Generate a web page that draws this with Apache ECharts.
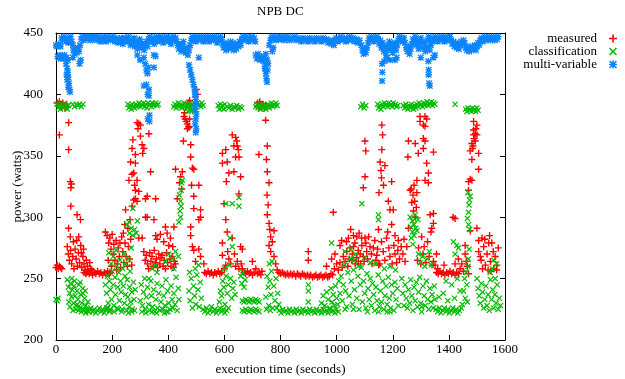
<!DOCTYPE html>
<html>
<head>
<meta charset="utf-8">
<script src="https://cdn.jsdelivr.net/npm/echarts@6/dist/echarts.min.js"></script>
<style>
html, body { margin: 0; padding: 0; background: #fff; }
#main { width: 625px; height: 379px; }
</style>
</head>
<body>
<div id="main"></div>
<script>
// power readings, [time (s), watts]
var measured = [
[0,259],[4,261],[8,258],[12,260],[16,259],[20,258],
[4,393],[8,391],[12,394],[16,392],[20,390],[24,393],[28,391],[32,389],[36,392],[40,390],
[12,367],[45,377],[45,355],[51,329],[53,324],[55,327],[53,309],[45,291],[75,302],[87,298],[51,284],[81,284],
[40,276],[44,270],[48,265],[52,273],[56,262],[60,268],[64,258],[68,274],[72,266],[76,260],[80,271],[84,263],[88,277],[92,259],[96,268],[100,262],[104,257],[108,265],[112,260],[116,256],[120,263],[124,258],[128,257],[62,280],[74,281],[90,271],[98,274],[110,255],
[100,255],[106,254],[112,256],[118,254],[124,255],[130,253],[136,255],[142,254],[148,256],[154,254],[160,255],[166,253],[172,255],[178,254],[184,256],[190,254],[194,255],
[176,288],[182,285],[188,279],[192,283],[196,274],[200,286],[204,270],[206,278],[210,265],[214,281],[218,262],[222,275],[226,268],[230,259],[234,284],[238,272],[242,263],[246,279],[250,268],[254,260],[258,276],[262,266],[266,282],[270,261],[186,265],[198,260],[216,257],[228,279],[240,287],[256,291],[264,298],[248,306],[245,294],
[289,377],[295,376],[301,375],[292,372],[274,363],[307,359],[301,366],[313,356],[271,356],[283,351],[309,352],[283,344],[277,336],[271,335],[289,330],[283,322],[295,321],[319,315],[325,317],[289,313],[277,314],[271,309],[283,315],[331,368],[337,337],[355,315],[319,300],[325,300],[295,283],[307,283],[349,298],[355,285],[260,330],[266,345],[280,326],
[313,272],[318,265],[322,269],[326,262],[330,258],[334,271],[338,264],[342,268],[346,260],[350,273],[354,263],[358,266],[362,259],[366,270],[370,262],[374,267],[378,269],[382,260],[386,265],[390,258],[394,271],[398,263],[402,277],[406,266],[410,260],[414,268],[418,259],[422,264],[426,262],[390,292],[420,292],[360,282],[372,286],[384,280],[396,287],[408,283],[416,276],
[426,339],[450,337],[444,333],[448,323],[432,315],[440,328],
[456,382],[460,380],[464,378],[468,376],[472,374],[474,373],[458,385],[462,390],[470,393],[476,395],[480,391],[454,362],[480,359],[486,340],[491,339],[480,349],[483,326],[491,317],[509,326],[491,307],[515,306],[480,292],[509,298],[515,300],[480,285],[486,276],[491,273],[509,274],[515,268],[527,262],[497,264],[476,380],[468,372],[500,404],[497,398],[504,400],
[530,255],[536,254],[542,256],[548,254],[554,255],[560,253],[566,255],[572,254],[578,256],[584,254],[590,255],
[593,352],[605,355],[593,344],[610,345],[628,367],[640,365],[646,358],[634,358],[640,349],[652,349],[658,333],[634,337],[616,336],[607,329],[652,319],[599,311],[605,298],[610,288],[593,279],[628,283],[658,276],[664,274],[593,269],[616,266],[605,261],[622,262],[636,270],[646,264],[652,258],[600,258],[640,260],[612,272],[660,262],[644,362],[650,355],
[664,258],[670,255],[676,254],[682,256],[688,254],[694,255],[700,264],[700,253],[706,255],[712,258],[718,254],[724,255],[730,253],[734,256],
[718,393],[722,391],[726,394],[730,392],[734,390],[738,392],[742,389],[746,391],[723,389],
[747,379],[753,358],[750,347],[753,337],[759,328],[723,351],[753,302],[759,295],[777,289],[765,284],[771,280],[759,277],[765,272],[777,268],[783,262],[752,318],[756,310],[762,290],
[788,257],[794,255],[800,254],[806,255],[812,254],[818,253],[824,254],[830,253],[836,254],[842,253],[848,254],[854,252],[860,254],[866,253],[872,252],[878,254],[884,253],[890,252],[896,253],[902,252],[908,253],[914,251],[920,252],[926,253],[932,251],[938,252],[944,253],[950,251],[956,252],[962,253],[968,251],[974,252],[980,254],[986,253],
[899,272],[899,265],[988,304],
[964,260],[982,266],[994,270],[1012,277],[1018,281],[1042,283],[1048,275],[1065,279],[1077,273],[1089,283],[1101,283],[1030,264],[1054,265],[1077,264],[1095,268],[1107,272],[1119,276],[1131,275],[1143,269],[992,258],[1000,262],[1006,257],[1012,263],[1020,259],[1024,268],[1036,272],[1040,260],[1046,266],[1056,270],[1060,276],[1066,262],[1070,267],[1072,284],[1084,270],[1086,262],[1090,277],[1098,264],[1104,279],[1110,266],[1114,284],[1124,270],[1126,262],[1136,281],[1140,265],[1146,274],[1150,261],[1060,285],[1035,280],[1080,287],[1050,290],
[1101,362],[1104,354],[1101,333],[1095,324],
[1161,375],[1164,367],[1161,355],[1155,345],[1158,338],[1172,342],[1160,332],[1151,320],[1167,326],[1196,329],[1184,313],[1190,306],[1202,306],[1149,290],[1182,288],[1196,294],[1208,285],[1220,281],[1160,280],[1166,272],[1172,265],[1178,283],[1186,275],[1190,268],[1198,262],[1204,277],[1208,270],[1214,263],[1218,273],[1224,266],[1230,276],[1236,270],[1240,282],[1244,264],[1250,276],[1256,291],[1154,262],
[1256,362],[1280,360],[1254,349],[1291,352],[1266,323],[1272,318],[1278,313],[1284,308],[1274,305],[1280,300],[1268,312],[1286,320],[1286,330],[1262,322],[1276,326],
[1297,382],[1315,382],[1321,380],[1297,378],[1309,375],[1315,374],[1309,364],[1315,362],[1309,356],[1345,353],[1327,336],[1321,344],[1315,330],[1327,328],[1333,302],[1345,303],[1345,295],[1339,291],
[1303,284],[1308,270],[1312,276],[1318,263],[1324,280],[1330,268],[1336,288],[1340,261],[1345,264],[1351,261],[1356,270],[1360,258],[1300,262],[1292,275],[1288,265],
[1356,255],[1362,254],[1368,256],[1374,254],[1380,255],[1386,253],[1392,255],[1398,254],[1404,256],[1410,254],[1416,255],[1422,253],[1428,255],[1434,254],
[1383,261],[1422,262],[1422,299],[1415,300],
[1434,266],[1440,258],[1446,262],[1452,256],[1458,270],[1462,264],[1466,260],[1470,254],[1458,277],[1476,289],
[1470,329],[1476,331],[1482,330],[1470,322],
[1476,354],[1482,360],[1488,367],[1494,368],[1488,371],[1500,367],[1482,347],[1506,352],[1506,339],[1494,362],[1486,358],[1490,364],[1496,372],[1484,356],[1500,375],[1488,378],
[1500,291],[1506,281],[1506,272],[1512,268],[1518,283],[1524,276],[1530,261],[1536,270],[1542,279],[1548,264],[1553,279],[1558,272],[1565,268],[1571,261],[1576,275],[1540,257],[1550,256],[1560,258],[1570,257],[1515,265],[1528,282],[1545,285],[1520,258]
];

var classification = [
[0,233],[4,232],[8,234],
[4,392],[8,389],[12,391],[16,388],[20,392],[24,390],[28,389],[32,392],[36,390],[40,388],[44,391],
[60,392],[66,390],[72,392],[78,391],[84,392],[90,390],[96,392],
[40,249],[44,243],[48,238],[52,246],[55,235],[58,241],[62,230],[65,244],[68,236],[72,228],[75,240],[78,233],[82,245],[85,226],[88,237],[92,230],[95,242],[98,225],[102,234],[106,228],[110,224],[114,231],[116,223],[50,227],[60,224],[70,225],[80,224],[90,223],[46,231],[56,250],[66,248],[76,229],[86,247],[96,238],[104,240],
[100,224],[106,222],[112,225],[118,223],[124,226],[130,223],[136,225],[142,222],[148,224],[154,226],[160,223],[166,225],[172,222],[178,224],[184,226],[190,223],[194,225],
[176,245],[180,238],[184,252],[186,230],[190,248],[194,241],[196,262],[198,233],[200,256],[204,245],[206,228],[210,251],[212,237],[216,260],[218,226],[220,243],[224,255],[226,232],[230,248],[232,239],[236,225],[238,258],[240,244],[244,230],[246,252],[248,237],[252,224],[254,249],[256,235],[260,227],[262,243],[264,256],[266,231],[270,239],[272,225],[276,247],[278,233],[280,224],[282,241],[188,271],[204,268],[214,273],[228,265],[242,270],[250,262],[258,266],[268,275],[180,226],[192,224],[208,223],[222,225],[234,223],[258,222],[270,223],
[253,294],[260,296],[268,291],[274,285],[280,290],[286,287],[274,307],[290,297],[262,287],
[256,392],[260,389],[264,391],[268,388],[272,392],[276,390],[280,389],[284,392],[288,390],[292,391],[296,393],[300,390],[304,392],[308,391],[312,393],[316,390],[320,392],[324,389],[328,393],[332,391],[336,392],[340,390],[344,393],[348,391],[352,392],[356,393],[360,391],[364,392],
[300,232],[304,245],[308,228],[312,239],[316,250],[318,225],[322,235],[326,243],[330,229],[334,224],[338,248],[340,236],[344,227],[348,241],[352,223],[356,233],[360,246],[362,226],[366,238],[370,224],[374,231],[378,244],[380,225],[384,236],[388,228],[392,249],[394,223],[398,240],[402,230],[406,225],[410,244],[414,233],[416,226],[420,238],[424,229],[428,251],[432,224],[436,242],[438,233],[306,223],[320,222],[342,223],[358,222],[386,222],[400,223],[331,250],[343,258],[355,261],[360,255],[390,264],[402,270],[414,266],[426,272],[436,268],[420,258],
[440,318],[444,313],[446,309],[442,305],[444,300],[438,296],[446,322],[448,328],[450,330],
[420,390],[424,392],[428,389],[432,391],[436,393],[440,390],[444,392],[448,389],[452,391],[456,393],[460,390],[464,392],[468,389],[472,391],[476,393],[480,390],[484,392],[488,391],[492,393],[496,390],[500,392],[504,393],[508,391],[512,392],[516,390],[520,393],[524,391],[470,386],[478,387],[486,387],[494,386],
[474,240],[478,232],[482,250],[486,226],[490,244],[494,236],[498,229],[502,253],[506,241],[510,227],[514,247],[518,234],[476,255],[496,258],[508,261],
[524,225],[530,223],[536,226],[542,222],[548,224],[554,227],[560,223],[566,225],[572,222],[578,224],[584,226],[590,223],[596,225],[602,222],[608,224],[614,226],
[582,231],[586,240],[590,236],[594,248],[598,243],[602,229],[606,252],[610,238],[614,245],[618,261],[622,250],[626,234],[630,242],[634,247],[638,237],[600,258],[620,283],[628,276],[605,311],[628,311],[652,316],[652,309],
[578,391],[582,388],[586,392],[590,389],[594,391],[598,388],[602,392],[610,390],[616,389],[622,391],[628,388],[634,390],[638,389],[644,391],[650,388],[656,390],[662,389],
[658,252],[662,246],[666,255],[670,243],[674,249],
[664,232],[670,231],[676,233],[682,232],[688,231],[694,233],[700,232],[706,231],[712,233],[718,232],[724,231],[664,224],[670,223],[676,225],[682,224],[688,223],[694,225],[700,224],[706,223],[712,225],[718,224],[724,223],
[712,390],[716,392],[720,389],[724,391],[728,388],[732,392],[736,390],[740,389],[744,391],[748,388],[752,390],[756,392],[760,389],[764,391],[768,393],[772,390],[776,392],[780,391],[784,393],[788,391],
[748,235],[752,252],[756,243],[758,228],[762,248],[766,237],[768,256],[772,226],[776,244],[780,232],[784,250],[786,226],[790,238],[794,229],[760,262],[770,264],[750,225],[764,224],
[796,224],[802,222],[808,225],[814,223],[820,224],[826,222],[832,225],[838,223],[844,224],[850,222],[856,225],[862,223],[868,224],[874,222],[880,225],[886,223],[892,224],[898,222],[904,225],[910,223],[916,224],[922,222],[928,225],[934,223],[940,224],[946,222],[952,225],[958,223],[964,224],[970,222],[976,225],[982,223],[988,224],[994,222],[1000,225],[1006,223],
[899,245],[899,240],[899,231],
[946,230],[952,236],[958,228],[964,239],[970,233],[976,226],[980,242],[984,231],[988,237],[992,228],[996,244],[1000,234],[1004,229],[1008,248],[1012,238],[1016,252],[1020,232],[1024,245],[1028,261],[1032,240],[1036,227],[1040,255],[982,279],
[1044,236],[1048,266],[1052,248],[1056,229],[1060,257],[1064,241],[1068,270],[1072,234],[1076,252],[1080,225],[1084,245],[1088,259],[1092,231],[1096,248],[1100,238],[1104,226],[1108,254],[1112,242],[1116,233],[1120,250],[1124,228],[1128,246],[1132,237],[1136,224],[1140,243],[1144,232],[1148,253],[1152,227],[1156,240],[1160,231],[1164,248],[1168,225],[1172,236],[1176,244],[1180,229],[1184,251],[1188,234],[1192,226],[1196,245],[1200,238],[1204,224],[1208,247],[1212,233],[1216,242],[1220,228],[1030,272],[1050,274],[1064,265],[1077,260],[1090,311],[1100,267],[1120,263],[1140,262],[1170,258],[1190,260],[1210,257],[1060,225],[1110,223],[1150,223],[1190,223],[1030,225],[1180,223],
[1086,390],[1092,392],[1098,389],[1104,391],
[1149,302],[1149,298],[1146,392],[1150,389],[1154,391],[1158,388],[1162,392],[1166,390],[1170,393],[1174,391],[1178,392],[1182,390],[1186,393],[1190,391],[1194,392],[1198,390],[1202,393],[1206,391],[1210,392],[1214,390],[1218,391],
[1262,300],[1270,297],[1276,294],[1282,291],[1270,288],[1276,285],[1266,283],[1272,278],[1290,298],[1280,302],[1286,289],[1264,292],
[1238,391],[1242,389],[1246,392],[1250,390],[1254,388],[1258,391],[1262,389],[1266,392],[1270,390],[1274,388],[1278,391],[1282,389],[1286,392],[1290,390],[1294,393],[1298,391],[1302,392],[1306,390],[1310,393],[1314,391],[1318,392],[1322,394],[1326,391],[1330,393],[1334,392],[1338,394],[1342,391],[1346,393],[1350,392],
[1292,270],[1298,263],[1306,268],[1314,260],[1322,266],[1330,272],[1338,261],
[1232,250],[1236,238],[1240,228],[1244,245],[1248,234],[1252,226],[1256,241],[1260,230],[1264,249],[1268,236],[1272,224],[1276,243],[1280,232],[1284,247],[1288,227],[1292,239],[1296,251],[1300,230],[1303,227],[1303,223],[1308,244],[1312,236],[1316,228],[1320,248],[1324,233],[1328,225],[1332,242],[1336,231],[1340,237],[1344,226],[1348,244],[1350,233],
[1354,225],[1360,223],[1366,226],[1372,222],[1378,224],[1384,226],[1390,223],[1396,225],[1402,222],[1408,224],[1414,226],[1420,223],[1426,225],[1432,222],[1438,224],[1444,226],
[1380,238],[1396,232],[1410,245],[1420,234],[1430,250],[1440,240],[1365,235],[1390,248],
[1422,392],[1416,280],[1428,277],[1434,275],[1422,270],
[1448,229],[1452,240],[1456,250],[1458,234],[1462,255],[1464,245],[1466,231],[1468,260],[1470,266],[1472,274],
[1466,299],[1470,304],[1472,310],[1474,314],[1468,320],[1476,317],[1470,294],[1474,290],
[1460,388],[1464,386],[1468,389],[1472,387],[1476,388],[1480,386],[1484,389],[1488,387],[1492,388],[1496,386],[1500,389],[1504,387],
[1500,250],[1504,242],[1508,236],[1512,230],[1516,246],[1520,239],[1524,226],[1528,233],[1532,244],[1536,228],[1540,237],[1544,224],[1548,249],[1552,233],[1556,241],[1560,226],[1564,237],[1568,230],[1572,245],[1576,225],[1580,234],[1584,228],[1547,255],[1565,250],[1555,258],[1570,262],[1560,265]
];

var multiVariable = [
[0,440],[4,439],[8,441],[12,440],[16,439],
[6,431],[10,430],[14,432],[18,429],[22,431],[26,430],[30,432],[34,429],[38,430],[42,428],
[36,425],[40,421],[42,418],[44,414],[40,412],[46,409],[44,406],[48,404],[50,402],[38,416],
[20,446],[24,444],[28,447],[32,445],[36,443],[40,446],[44,442],[48,445],[52,447],[56,443],[60,440],[62,436],[66,433],[70,437],[74,434],[78,438],[82,435],[86,440],[90,445],[94,447],[98,444],[102,446],[106,447],[110,445],[114,447],[118,446],[122,444],[126,447],[130,446],[134,445],[138,447],[142,446],[146,444],[150,447],[154,445],[158,443],[162,446],[166,447],[170,444],[174,446],[178,443],[182,447],[186,445],[190,446],[194,444],[198,446],[202,447],[206,445],[210,443],[214,446],[218,444],[222,442],[226,445],[230,443],[234,446],[238,441],[242,444],[246,446],[250,443],[254,445],[258,447],[262,443],[266,440],[270,444],[274,442],[278,446],[282,439],[286,443],[290,437],[294,441],[298,445],[302,443],[306,438],[310,441],[314,436],[318,440],[322,443],[326,439],[330,445],[334,447],[338,443],[342,446],[346,444],[350,441],[354,445],[358,447],[362,443],[366,446],[370,444],[374,447],[378,445],[382,442],[386,446],[390,444],[394,447],[398,445],[402,443],[406,446],[410,441],[414,444],[418,447],[422,445],[426,446],[430,443],[434,440],[438,437],[442,441],[446,435],[450,439],[454,443],[458,437],[462,434],[466,438],[470,432],[474,436],[478,440],[482,444],[486,447],[490,445],[494,446],[498,443],[502,447],[506,445],[510,446],[514,444],[518,447],[522,445],[526,443],[530,446],[534,447],[538,444],[542,446],[546,443],[550,447],[554,445],[558,446],[562,444],[566,447],[570,445],[574,442],[578,446],[582,444],[586,447],[590,445],[594,441],[598,438],[602,442],[606,436],[610,440],[614,437],[618,441],[622,443],[626,438],[630,442],[634,436],[638,440],[642,437],[646,441],[650,439],[654,443],[658,440],[662,445],[666,447],[670,444],[674,446],[678,447],[682,445],[686,443],[690,446],[694,444],[698,447],[702,445],[706,446],[710,443],
[712,432],[716,429],[720,433],[724,430],[728,428],[732,431],[736,429],[740,427],[744,430],[748,433],[752,428],[756,425],[744,421],[748,417],[750,413],[752,410],[754,420],[746,424],
[771,435],[774,438],[760,440],[764,444],[768,446],[772,447],[776,445],[780,446],[784,444],[788,447],[792,445],[796,446],[800,447],[804,445],[808,446],[812,444],[816,447],
[820,445],[826,447],[832,444],[838,446],[844,445],[850,447],[856,444],[862,446],[868,445],[874,443],[880,446],[886,444],[892,445],[898,443],[904,446],[910,444],[916,445],[922,443],[928,446],[934,444],[940,445],[946,443],[952,446],[958,444],[964,445],[970,442],[976,444],[982,441],[986,443],[990,440],[994,444],[998,446],[1004,443],[1010,445],[1016,447],[1022,444],[1028,446],[1034,443],[1040,445],[1046,447],[1052,444],[1058,446],[1064,443],[1070,445],[1076,442],[1082,444],[1088,440],[1092,436],[1096,433],[1100,437],[1104,434],[1108,438],[1112,442],[1116,446],[1120,444],[1124,447],[1128,445],[1132,443],[1136,446],[1140,444],[1144,447],[1148,445],[1152,441],[1156,444],[1160,438],[1164,442],[1168,435],[1172,439],[1176,432],[1180,436],[1184,440],[1188,443],[1192,437],[1196,441],[1200,434],[1204,438],[1208,442],[1212,436],[1216,440],[1220,444],[1224,447],[1228,445],[1232,446],[1236,443],[1240,446],[1244,442],[1248,438],[1252,435],[1256,439],[1260,433],[1264,437],[1268,441],[1272,445],[1276,443],[1280,447],[1284,440],[1288,444],[1292,437],[1296,441],[1300,446],[1304,443],[1308,438],[1312,442],[1316,435],[1320,439],[1324,444],[1328,447],[1332,436],[1336,440],[1340,443],[1344,446],[1348,444],[1352,447],[1356,445],[1360,443],[1364,446],[1368,444],[1372,447],[1376,445],[1380,446],[1384,443],[1388,447],[1392,445],[1396,444],[1400,446],[1404,447],[1408,444],[1412,441],[1416,443],[1420,439],[1424,442],[1428,438],[1432,441],[1436,437],[1440,440],[1444,443],[1448,441],[1452,444],[1456,442],[1460,438],[1464,436],[1468,439],[1472,435],[1476,438],[1480,436],[1484,439],[1488,437],[1492,440],[1496,436],[1500,439],[1504,442],[1508,440],[1512,444],[1516,446],[1520,443],[1524,445],[1528,447],[1532,444],[1536,446],[1540,445],[1544,447],[1548,444],[1552,446],[1556,445],[1560,447],[1564,444],[1568,446],[1572,445],[1576,447],
[1162,425],[1163,418],[1162,411],[1208,428],[1214,430],[1180,430],[1190,428],[1170,427],[1327,427],[1328,420],[1328,416],[1330,409],[1332,407],[1345,430],[1350,432],[1300,430],
[313,430],[318,425],[322,420],[326,417],[330,422],[349,432],[355,431],[349,422],[313,407],[322,408],[331,399],[331,404],[327,400],[333,383],[333,378],[327,380],[290,432],[300,428],
[474,424],[478,420],[482,416],[486,412],[490,408],[494,404],[496,400],[498,396],[498,392],[496,388],[500,384],[498,380],[496,376],[500,372],[498,369],[509,430],[497,401],[88,428],[84,425],[60,430]
];

var xTicks = [0, 1600, 200];
var yTicks = [200, 450, 50];

var plusPath = 'path://M4,0H6V4H10V6H6V10H4V6H0V4H4Z';
var crossPath = 'path://M0,1.4L1.4,0L5,3.6L8.6,0L10,1.4L6.4,5L10,8.6L8.6,10L5,6.4L1.4,10L0,8.6L3.6,5Z';
var starPath = 'path://M4,0H6V4H10V6H6V10H4V6H0V4H4Z M0,1.4L1.4,0L5,3.6L8.6,0L10,1.4L6.4,5L10,8.6L8.6,10L5,6.4L1.4,10L0,8.6L3.6,5Z';

var font = 'Liberation Serif';

function axisBase(pos, show, range) {
	return {
		type: 'value',
		position: pos,
		min: range[0],
		max: range[1],
		interval: range[2],
		axisLine: { show: true, onZero: false, lineStyle: { color: '#000', width: 1 } },
		axisTick: { show: true, inside: true, length: 5, lineStyle: { color: '#000' } },
		splitLine: { show: false },
		axisLabel: {
			show: show, color: '#000', fontFamily: font, fontSize: 13,
			formatter: function(v) { return String(v); }
		}
	};
}

var xMain = axisBase('bottom', true, xTicks);
xMain.axisLabel.margin = 3;
xMain.name = 'execution time (seconds)';
xMain.nameLocation = 'middle';
xMain.nameGap = 23;
xMain.nameMoveOverlap = false;
xMain.nameTextStyle = { color: '#000', fontFamily: font, fontSize: 13 };

var yMain = axisBase('left', true, yTicks);
yMain.axisLabel.margin = 13;
yMain.name = 'power (watts)';
yMain.nameLocation = 'middle';
yMain.nameGap = 32;
yMain.nameMoveOverlap = false;
yMain.nameTextStyle = { color: '#000', fontFamily: font, fontSize: 13 };

var chart = echarts.init(document.getElementById('main'));
chart.setOption({
	animation: false,
	backgroundColor: '#fff',
	graphic: [{
		type: 'text',
		left: 257,
		top: 5,
		style: { text: 'NPB DC', fill: '#000', font: '13px "Liberation Serif"' }
	}],
	legend: {
		orient: 'vertical',
		right: 8,
		top: 32,
		padding: 0,
		itemGap: 0,
		itemWidth: 8,
		itemHeight: 8,
		align: 'right',
		textStyle: { color: '#000', fontFamily: font, fontSize: 13, lineHeight: 12.5, padding: [0, 7, 0, 0] },
		data: ['measured', 'classification', 'multi-variable']
	},
	grid: { left: 56, right: 120, top: 33, bottom: 39, containLabel: false, outerBoundsMode: 'none' },
	xAxis: [xMain, axisBase('top', false, xTicks)],
	yAxis: [yMain, axisBase('right', false, yTicks)],
	series: [{
		name: 'measured',
		type: 'scatter',
		symbol: plusPath,
		symbolSize: 7,
		itemStyle: { color: '#ff0000', opacity: 1 },
		emphasis: { disabled: true },
		data: measured
	}, {
		name: 'classification',
		type: 'scatter',
		symbol: crossPath,
		symbolSize: 6,
		itemStyle: { color: '#00bb00', opacity: 1 },
		emphasis: { disabled: true },
		data: classification
	}, {
		name: 'multi-variable',
		type: 'scatter',
		symbol: starPath,
		symbolSize: 6.5,
		itemStyle: { color: '#0a84ff', opacity: 1 },
		emphasis: { disabled: true },
		data: multiVariable
	}]
});
</script>
</body>
</html>
